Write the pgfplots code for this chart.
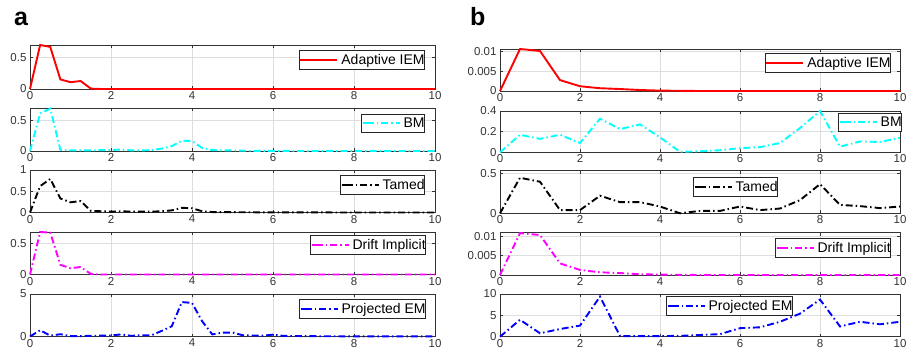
\documentclass[border=0pt]{standalone}
\usepackage{pgfplots}
\pgfplotsset{compat=1.18}
\usepackage{fontspec}
\setmainfont{Liberation Sans}
\definecolor{axgray}{rgb}{0.2,0.2,0.2}
\definecolor{mcyan}{rgb}{0,1,1}
\definecolor{mmag}{rgb}{1,0,1}
\definecolor{mred}{rgb}{1,0,0}
\definecolor{mblue}{rgb}{0,0,1}
\pgfplotsset{
  mystyle/.style={
    scale only axis, xmin=0, xmax=10, ymin=0,
    xtick={0,2,4,6,8,10},
    grid=major,
    major grid style={color=black!13, line width=0.6pt},
    axis line style={color=axgray, line width=0.6pt},
    tick style={color=axgray, line width=0.6pt},
    major tick length=3pt,
    tick align=inside,
    ticklabel style={font=\fontsize{11.5}{12}\selectfont, color=axgray},
    scaled y ticks=false,
    /pgf/number format/assume math mode=true,
    yticklabel style={/pgf/number format/fixed, /pgf/number format/precision=3},
    xticklabel style={yshift=1pt},
    clip=false,
    every axis plot/.append style={line width=1.9pt},
    legend image code/.code={\path (0pt,0pt) -- (4pt,0pt); \draw[##1] (4pt,0pt) -- (37pt,0pt); \path (40pt,0pt);},
    legend style={draw=black!85, line width=0.7pt, fill=white, inner sep=0pt,
      font=\fontsize{14}{16}\selectfont,
      nodes={inner xsep=0pt, inner ysep=3.6pt, anchor=west}, anchor=north east},
  },
  dd/.style={dash pattern=on 7pt off 3pt on 1.5pt off 3pt},
}
\begin{document}
\begin{tikzpicture}[x=1pt,y=1pt]
\useasboundingbox (0,0) rectangle (909,357);
\node[anchor=base west, inner sep=0pt, font=\fontsize{25}{25}\selectfont\bfseries] at (14,331) {a};
\node[anchor=base west, inner sep=0pt, font=\fontsize{25}{25}\selectfont\bfseries] at (470,331) {b};

% ---------------- left column ----------------
\begin{axis}[mystyle, width=405pt, height=44pt, at={(30pt,268pt)}, anchor=south west,
  ymax=0.69, ytick={0,0.5}, legend style={at={(0.9753,0.886)}}]
\addplot[mred, solid] coordinates {(0,0) (0.25,0.69) (0.5,0.66) (0.75,0.15) (1,0.107) (1.25,0.125) (1.5,0.006) (1.75,0) (2,0) (2.25,0) (2.5,0) (2.75,0) (3,0) (3.25,0) (3.5,0) (3.75,0) (4,0) (4.25,0) (4.5,0) (4.75,0) (5,0) (5.25,0) (5.5,0) (5.75,0) (6,0) (6.25,0) (6.5,0) (6.75,0) (7,0) (7.25,0) (7.5,0) (7.75,0) (8,0) (8.25,0) (8.5,0) (8.75,0) (9,0) (9.25,0) (9.5,0) (9.75,0) (10,0)};
\addlegendentry{Adaptive IEM\hspace{13.7pt}}
\end{axis}

\begin{axis}[mystyle, width=405pt, height=43pt, at={(30pt,206pt)}, anchor=south west,
  ymax=0.71, ytick={0,0.5}, legend style={at={(0.9753,0.872)}}]
\addplot[mcyan, dd] coordinates {(0,0) (0.25,0.62) (0.5,0.70) (0.75,0.02) (1,0.01) (1.25,0.01) (1.5,0.01) (1.75,0.015) (2,0.015) (2.25,0.025) (2.5,0.01) (2.75,0.01) (3,0.015) (3.25,0.04) (3.5,0.08) (3.75,0.17) (4,0.165) (4.25,0.05) (4.5,0.015) (4.75,0.01) (5,0.01) (5.25,0.005) (5.5,0.003) (5.75,0.002) (6,0.002) (6.25,0.001) (6.5,0.001) (6.75,0) (7,0) (7.25,0) (7.5,0) (7.75,0) (8,0) (8.25,0) (8.5,0) (8.75,0) (9,0) (9.25,0) (9.5,0) (9.75,0) (10,0)};
\addlegendentry{BM\hspace{1pt}}
\end{axis}

\begin{axis}[mystyle, width=405pt, height=42.5pt, at={(30pt,144.5pt)}, anchor=south west,
  ymax=1, ytick={0,0.5,1}, legend style={at={(0.9753,0.882)}}]
\addplot[black, dd] coordinates {(0,0) (0.25,0.62) (0.5,0.79) (0.75,0.33) (1,0.24) (1.25,0.27) (1.5,0.04) (1.75,0.03) (2,0.02) (2.25,0.03) (2.5,0.02) (2.75,0.02) (3,0.02) (3.25,0.03) (3.5,0.05) (3.75,0.11) (4,0.1) (4.25,0.03) (4.5,0.01) (4.75,0.01) (5,0.008) (5.25,0.006) (5.5,0.005) (5.75,0.004) (6,0.004) (6.25,0.003) (6.5,0.003) (6.75,0.002) (7,0.002) (7.25,0.002) (7.5,0.001) (7.75,0.001) (8,0.001) (8.25,0.001) (8.5,0) (8.75,0) (9,0) (9.25,0) (9.5,0) (9.75,0) (10,0)};
\addlegendentry{Tamed\hspace{10.4pt}}
\end{axis}

\begin{axis}[mystyle, width=405pt, height=42.5pt, at={(30pt,82.5pt)}, anchor=south west,
  ymax=0.68, ytick={0,0.5}, legend style={at={(0.9778,0.929)}}]
\addplot[mmag, dd] coordinates {(0,0) (0.25,0.68) (0.5,0.67) (0.75,0.155) (1,0.1) (1.25,0.12) (1.5,0.01) (1.75,0) (2,0) (2.25,0) (2.5,0) (2.75,0) (3,0) (3.25,0) (3.5,0) (3.75,0) (4,0) (4.25,0) (4.5,0) (4.75,0) (5,0) (5.25,0) (5.5,0) (5.75,0) (6,0) (6.25,0) (6.5,0) (6.75,0) (7,0) (7.25,0) (7.5,0) (7.75,0) (8,0) (8.25,0) (8.5,0) (8.75,0) (9,0) (9.25,0) (9.5,0) (9.75,0) (10,0)};
\addlegendentry{Drift Implicit\hspace{19.9pt}}
\end{axis}

\begin{axis}[mystyle, width=405pt, height=42.5pt, at={(30pt,20.5pt)}, anchor=south west,
  ymax=5, ytick={0,5}, legend style={at={(0.9778,0.882)}}]
\addplot[mblue, dd] coordinates {(0,0) (0.25,0.74) (0.5,0.1) (0.75,0.27) (1,0.05) (1.25,0.05) (1.5,0.08) (1.75,0.1) (2,0.12) (2.25,0.25) (2.5,0.08) (2.75,0.15) (3,0.15) (3.25,0.66) (3.5,1.2) (3.75,4.05) (4,3.95) (4.25,1.8) (4.5,0.25) (4.75,0.45) (5,0.47) (5.25,0.15) (5.5,0.12) (5.75,0.1) (6,0.22) (6.25,0.08) (6.5,0.06) (6.75,0.05) (7,0.04) (7.25,0.03) (7.5,0.03) (7.75,0.02) (8,0.02) (8.25,0.02) (8.5,0.01) (8.75,0.01) (9,0.01) (9.25,0.01) (9.5,0.01) (9.75,0.01) (10,0.01)};
\addlegendentry{Projected EM\hspace{14pt}}
\end{axis}

% ---------------- right column ----------------
\begin{axis}[mystyle, width=400pt, height=42pt, at={(500pt,266pt)}, anchor=south west,
  ymax=0.0106, ytick={0,0.005,0.01}, legend style={at={(0.9775,0.905)}}]
\addplot[mred, solid] coordinates {(0,0) (0.5,0.0106) (1,0.0101) (1.5,0.00275) (2,0.0012) (2.5,0.0007) (3,0.0005) (3.5,0.00025) (4,0.0001) (4.5,0.00005) (5,0) (5.5,0) (6,0) (6.5,0) (7,0) (7.5,0) (8,0) (8.5,0) (9,0) (9.5,0) (10,0)};
\addlegendentry{Adaptive IEM\hspace{12.7pt}}
\end{axis}

\begin{axis}[mystyle, width=400pt, height=41.3pt, at={(500pt,204.7pt)}, anchor=south west,
  ymax=0.4, ytick={0,0.2,0.4}, legend style={at={(1.005,0.959)}}]
\addplot[mcyan, dd] coordinates {(0,0) (0.5,0.17) (1,0.13) (1.5,0.17) (2,0.09) (2.5,0.325) (3,0.225) (3.5,0.27) (4,0.145) (4.5,0.005) (5,0.01) (5.5,0.02) (6,0.04) (6.5,0.05) (7,0.09) (7.5,0.235) (8,0.40) (8.5,0.055) (9,0.105) (9.5,0.10) (10,0.14)};
\addlegendentry{BM\hspace{7pt}}
\end{axis}

\begin{axis}[mystyle, width=400pt, height=42.6pt, at={(500pt,143.7pt)}, anchor=south west,
  ymax=0.533, ytick={0,0.5}, legend style={at={(0.695,0.852)}}]
\addplot[black, dd] coordinates {(0,0) (0.5,0.445) (1,0.395) (1.5,0.04) (2,0.04) (2.5,0.22) (3,0.14) (3.5,0.14) (4,0.085) (4.5,0.0) (5,0.03) (5.5,0.03) (6,0.085) (6.5,0.04) (7,0.06) (7.5,0.165) (8,0.365) (8.5,0.105) (9,0.09) (9.5,0.065) (10,0.085)};
\addlegendentry{Tamed\hspace{2.4pt}}
\end{axis}

\begin{axis}[mystyle, width=400pt, height=42.3pt, at={(500pt,82pt)}, anchor=south west,
  ymax=0.0109, ytick={0,0.005,0.01}, legend style={at={(0.9775,0.875)}}]
\addplot[mmag, dd] coordinates {(0,0) (0.5,0.0108) (1,0.0103) (1.5,0.003) (2,0.0013) (2.5,0.0007) (3,0.0005) (3.5,0.0002) (4,0.0001) (4.5,0.00005) (5,0) (5.5,0) (6,0) (6.5,0) (7,0) (7.5,0) (8,0) (8.5,0) (9,0) (9.5,0) (10,0)};
\addlegendentry{Drift Implicit\hspace{19pt}}
\end{axis}

\begin{axis}[mystyle, width=400pt, height=42.7pt, at={(500pt,20.3pt)}, anchor=south west,
  ymax=10, ytick={0,5,10}, legend style={at={(0.7325,0.953)}}]
\addplot[mblue, dd] coordinates {(0,0) (0.5,3.97) (1,0.8) (1.5,1.8) (2,2.6) (2.5,9.4) (3,0.15) (3.5,0.15) (4,0.15) (4.5,0.2) (5,0.4) (5.5,0.6) (6,2.0) (6.5,2.2) (7,3.5) (7.5,5.4) (8,8.7) (8.5,2.4) (9,3.5) (9.5,2.9) (10,3.5)};
\addlegendentry{Projected EM\hspace{15pt}}
\end{axis}
\end{tikzpicture}
\end{document}
